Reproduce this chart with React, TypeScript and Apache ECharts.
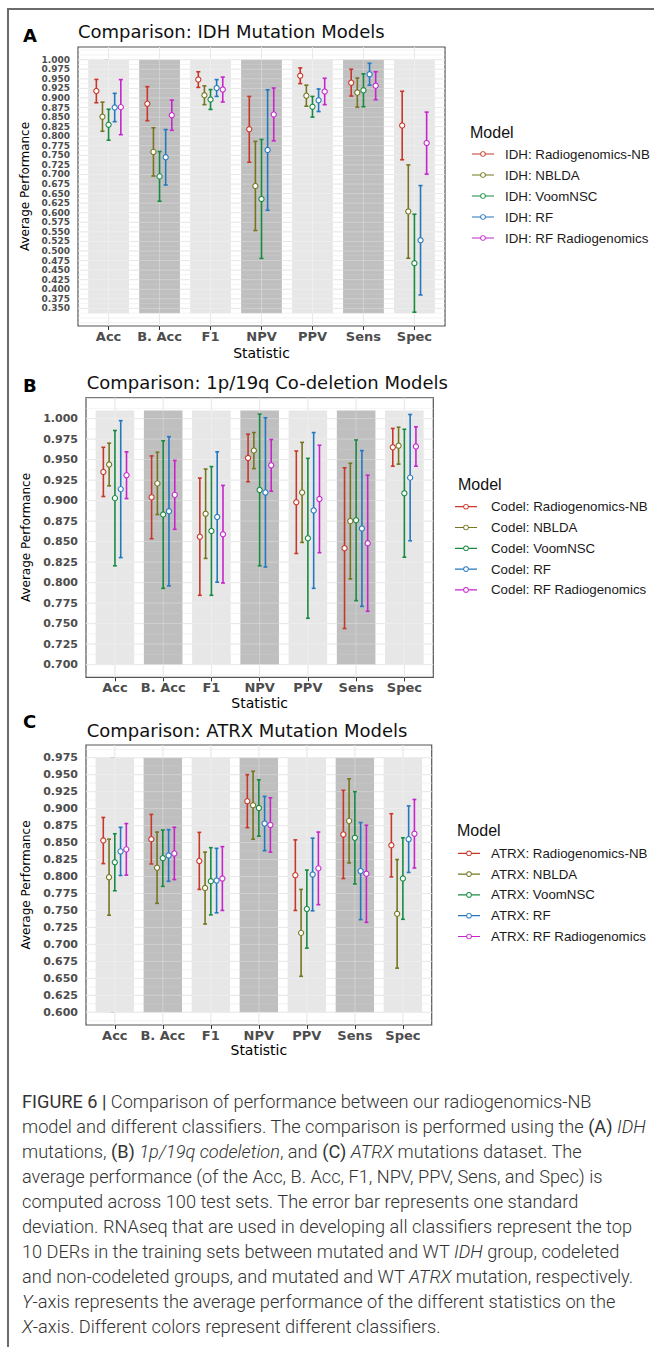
import React, { useEffect, useRef } from "react";
import * as echarts from "echarts";

const statistics = ["Acc", "B. Acc", "F1", "NPV", "PPV", "Sens", "Spec"];
const modelNames = ["Radiogenomics-NB", "NBLDA", "VoomNSC", "RF", "RF Radiogenomics"];
const modelColors = ["#c8372a", "#75751f", "#178b40", "#2379c0", "#c625cc"];
const bandShade = [0, 1, 0, 1, 0, 1, 0];

// [mean, sd] per statistic
const idhRadiogenomicsNB = [[0.918, 0.0305], [0.885, 0.0445], [0.948, 0.0205], [0.818, 0.086], [0.958, 0.0205], [0.94, 0.035], [0.828, 0.0895]];
const idhNBLDA = [[0.851, 0.038], [0.759, 0.063], [0.907, 0.0245], [0.67, 0.1165], [0.906, 0.0275], [0.914, 0.038], [0.603, 0.122]];
const idhVoomNSC = [[0.83, 0.0405], [0.695, 0.065], [0.896, 0.026], [0.636, 0.1555], [0.877, 0.027], [0.92, 0.043], [0.468, 0.128]];
const idhRF = [[0.875, 0.037], [0.745, 0.0725], [0.926, 0.022], [0.764, 0.1575], [0.894, 0.0295], [0.962, 0.0285], [0.528, 0.143]];
const idhRFRadiogenomics = [[0.876, 0.072], [0.855, 0.0395], [0.922, 0.0325], [0.857, 0.069], [0.917, 0.0345], [0.932, 0.0365], [0.782, 0.081]];

const codelRadiogenomicsNB = [[0.935, 0.03], [0.904, 0.0505], [0.856, 0.0715], [0.952, 0.029], [0.898, 0.0625], [0.842, 0.098], [0.965, 0.023]];
const codelNBLDA = [[0.944, 0.026], [0.921, 0.038], [0.884, 0.0545], [0.961, 0.022], [0.91, 0.061], [0.875, 0.0705], [0.967, 0.0225]];
const codelVoomNSC = [[0.903, 0.0825], [0.883, 0.09], [0.863, 0.0785], [0.913, 0.0925], [0.854, 0.0975], [0.876, 0.098], [0.909, 0.078]];
const codelRF = [[0.914, 0.0835], [0.887, 0.091], [0.88, 0.0795], [0.91, 0.091], [0.888, 0.095], [0.866, 0.095], [0.928, 0.077]];
const codelRFRadiogenomics = [[0.931, 0.0285], [0.907, 0.042], [0.859, 0.0595], [0.943, 0.0315], [0.902, 0.0655], [0.848, 0.083], [0.966, 0.024]];

const atrxRadiogenomicsNB = [[0.853, 0.034], [0.855, 0.0365], [0.823, 0.042], [0.911, 0.039], [0.802, 0.052], [0.862, 0.065], [0.846, 0.0465]];
const atrxNBLDA = [[0.799, 0.056], [0.813, 0.0525], [0.783, 0.053], [0.905, 0.05], [0.717, 0.064], [0.882, 0.062], [0.745, 0.08]];
const atrxVoomNSC = [[0.821, 0.042], [0.827, 0.0415], [0.793, 0.0495], [0.901, 0.0415], [0.752, 0.0575], [0.857, 0.068], [0.797, 0.06]];
const atrxRF = [[0.837, 0.0355], [0.831, 0.038], [0.794, 0.0475], [0.878, 0.04], [0.803, 0.0535], [0.808, 0.0715], [0.855, 0.049]];
const atrxRFRadiogenomics = [[0.84, 0.038], [0.834, 0.0385], [0.797, 0.047], [0.876, 0.04], [0.812, 0.0535], [0.804, 0.0715], [0.863, 0.0505]];

const idhTicks = [0.35, 0.375, 0.4, 0.425, 0.45, 0.475, 0.5, 0.525, 0.55, 0.575, 0.6, 0.625, 0.65, 0.675, 0.7, 0.725, 0.75, 0.775, 0.8, 0.825, 0.85, 0.875, 0.9, 0.925, 0.95, 0.975, 1.0];
const codelTicks = [0.7, 0.725, 0.75, 0.775, 0.8, 0.825, 0.85, 0.875, 0.9, 0.925, 0.95, 0.975, 1.0];
const atrxTicks = [0.6, 0.625, 0.65, 0.675, 0.7, 0.725, 0.75, 0.775, 0.8, 0.825, 0.85, 0.875, 0.9, 0.925, 0.95, 0.975];

const idhBand = [0.337, 1.0];
const codelBand = [0.7, 1.01];
const atrxBand = [0.6, 0.975];

const idhRange = [0.3039, 1.0332];
const codelRange = [0.6845, 1.0255];
const atrxRange = [0.58125, 0.99375];

const panels = [
  {
    letter: "A", prefix: "IDH", title: "Comparison: IDH Mutation Models",
    models: [idhRadiogenomicsNB, idhNBLDA, idhVoomNSC, idhRF, idhRFRadiogenomics],
    ticks: idhTicks, band: idhBand, range: idhRange,
    grid: { left: 78, top: 47, width: 367, height: 279 },
    yLabelSize: 9, yNameGap: 44, xNameGap: 20,
    letterPos: [23, 35], titlePos: [78, 31.7],
    legendPos: [472, 147], legendGap: 7, legendPad: 6, modelPos: [470, 132],
  },
  {
    letter: "B", prefix: "Codel", title: "Comparison: 1p/19q Co-deletion Models",
    models: [codelRadiogenomicsNB, codelNBLDA, codelVoomNSC, codelRF, codelRFRadiogenomics],
    ticks: codelTicks, band: codelBand, range: codelRange,
    grid: { left: 86, top: 397.7, width: 347.3, height: 279.6 },
    yLabelSize: 11, yNameGap: 52, xNameGap: 19,
    letterPos: [23, 385], titlePos: [86.7, 382.7],
    legendPos: [455, 499.7], legendGap: 6.8, legendPad: 9, modelPos: [458, 484],
  },
  {
    letter: "C", prefix: "ATRX", title: "Comparison: ATRX Mutation Models",
    models: [atrxRadiogenomicsNB, atrxNBLDA, atrxVoomNSC, atrxRF, atrxRFRadiogenomics],
    ticks: atrxTicks, band: atrxBand, range: atrxRange,
    grid: { left: 86, top: 745, width: 345.7, height: 280 },
    yLabelSize: 11, yNameGap: 52, xNameGap: 18,
    letterPos: [23, 721.7], titlePos: [86.7, 730],
    legendPos: [458, 846.3], legendGap: 6.8, legendPad: 6, modelPos: [457, 830.7],
  },
];

const legendIcon =
  "path://M0,2.4L8.2,2.4L8.2,3.6L0,3.6Z M13.8,2.4L22,2.4L22,3.6L13.8,3.6Z " +
  "M8.2,3A2.8,2.8 0 1 1 13.8,3A2.8,2.8 0 1 1 8.2,3Z M9.1,3A1.9,1.9 0 1 0 12.9,3A1.9,1.9 0 1 0 9.1,3Z";

const chartFont = "DejaVu Sans";
const legendFont = "Liberation Sans";

function gridLineSeries(p: any, pi: number, z: number, majorColor: string, minorColor: string) {
  return {
    type: "custom",
    name: `gridlines${pi}_${z}`,
    xAxisIndex: pi,
    yAxisIndex: pi,
    silent: true,
    z,
    data: [[0, p.range[0]]],
    encode: { x: 0 },
    renderItem: (params: any, api: any) => {
      const cs = params.coordSys;
      const children: any[] = [];
      const step = 0.0125;
      const start = Math.ceil(p.range[0] / step - 1e-6);
      const end = Math.floor(p.range[1] / step + 1e-6);
      for (let k = start; k <= end; k++) {
        const v = k * step;
        const major = p.ticks.some((t: number) => Math.abs(t - v) < 1e-6);
        const y = api.coord([0, v])[1];
        children.push({
          type: "line",
          shape: { x1: cs.x, y1: y, x2: cs.x + cs.width, y2: y },
          style: { stroke: major ? majorColor : minorColor, lineWidth: major ? 1 : 0.6 },
        });
      }
      statistics.forEach((_, i) => {
        const x = api.coord([i, 0])[0];
        children.push({
          type: "line",
          shape: { x1: x, y1: cs.y, x2: x, y2: cs.y + cs.height },
          style: { stroke: majorColor, lineWidth: 1 },
        });
      });
      return { type: "group", children };
    },
  };
}

function buildOption() {
  const grids: any[] = [];
  const xAxes: any[] = [];
  const yAxes: any[] = [];
  const series: any[] = [];
  const legends: any[] = [];
  const graphics: any[] = [];

  panels.forEach((p, pi) => {
    grids.push({
      ...p.grid,
      show: true,
      backgroundColor: "#ffffff",
      borderColor: "#555555",
      borderWidth: 1.2,
      containLabel: false,
      outerBoundsMode: "none",
    });
    xAxes.push({
      type: "value",
      gridIndex: pi,
      min: -0.6,
      max: 6.6,
      name: "Statistic",
      nameLocation: "middle",
      nameGap: p.xNameGap,
      nameTextStyle: { fontFamily: chartFont, fontSize: 14, color: "#000" },
      axisLine: { show: false },
      splitLine: { show: false },
      axisTick: {
        show: true, length: 4, customValues: statistics.map((_, i) => i),
        lineStyle: { color: "#333", width: 1 },
      },
      axisLabel: {
        customValues: statistics.map((_, i) => i),
        formatter: (v: number) => statistics[Math.round(v)] ?? "",
        fontFamily: chartFont, fontWeight: "bold", fontSize: 13, color: "#4d4d4d", margin: 4,
      },
    });
    yAxes.push({
      type: "value",
      gridIndex: pi,
      min: p.range[0],
      max: p.range[1],
      name: "Average Performance",
      nameLocation: "middle",
      nameRotate: 90,
      nameGap: p.yNameGap,
      nameTextStyle: { fontFamily: chartFont, fontSize: 12, color: "#000" },
      axisLine: { show: false },
      splitLine: { show: false },
      axisTick: {
        show: true, length: 4, customValues: p.ticks,
        lineStyle: { color: "#333", width: 1 },
      },
      axisLabel: {
        customValues: p.ticks,
        formatter: (v: number) => v.toFixed(3),
        fontFamily: chartFont, fontWeight: "bold", fontSize: p.yLabelSize, color: "#4d4d4d", margin: 8,
      },
    });

    // grey grid lines on the white panel
    series.push(gridLineSeries(p, pi, 1, "#e0e0e0", "#ebebeb"));

    // shaded statistic bands
    series.push({
      type: "custom",
      name: `band${pi}`,
      xAxisIndex: pi,
      yAxisIndex: pi,
      silent: true,
      z: 2,
      data: statistics.map((_, i) => [i, bandShade[i]]),
      encode: { x: 0 },
      renderItem: (params: any, api: any) => {
        const i = api.value(0);
        const shade = api.value(1);
        const tl = api.coord([i - 0.4, p.band[1]]);
        const br = api.coord([i + 0.4, p.band[0]]);
        return {
          type: "rect",
          shape: { x: tl[0], y: tl[1], width: br[0] - tl[0], height: br[1] - tl[1] },
          style: { fill: shade ? "#bfbfbf" : "#e7e7e7" },
        };
      },
    });

    // faint light grid lines showing through the bands
    series.push(gridLineSeries(p, pi, 3, "rgba(255,255,255,0.28)", "rgba(255,255,255,0.18)"));

    const names: string[] = [];
    p.models.forEach((model, k) => {
      const name = `${p.prefix}: ${modelNames[k]}`;
      names.push(name);
      const color = modelColors[k];
      series.push({
        type: "custom",
        name,
        xAxisIndex: pi,
        yAxisIndex: pi,
        z: 4,
        itemStyle: { color },
        data: model.map(([m, sd], i) => [i, m, m - sd, m + sd]),
        encode: { x: 0, y: [1, 2, 3] },
        renderItem: (params: any, api: any) => {
          const x = api.value(0) + (k - 2) * 0.12;
          const pm = api.coord([x, api.value(1)]);
          const pl = api.coord([x, api.value(2)]);
          const ph = api.coord([x, api.value(3)]);
          const cl = api.coord([x - 0.04, api.value(2)])[0];
          const cr = api.coord([x + 0.04, api.value(2)])[0];
          const ls = { stroke: color, lineWidth: 1.6 };
          return {
            type: "group",
            children: [
              { type: "line", shape: { x1: pl[0], y1: pl[1], x2: ph[0], y2: ph[1] }, style: ls },
              { type: "line", shape: { x1: cl, y1: ph[1], x2: cr, y2: ph[1] }, style: ls },
              { type: "line", shape: { x1: cl, y1: pl[1], x2: cr, y2: pl[1] }, style: ls },
              { type: "circle", shape: { cx: pm[0], cy: pm[1], r: 2.6 }, style: { fill: "#ffffff", stroke: color, lineWidth: 1.1 } },
            ],
          };
        },
      });
    });

    legends.push({
      data: names,
      orient: "vertical",
      left: p.legendPos[0],
      top: p.legendPos[1],
      padding: 0,
      itemWidth: 22,
      itemHeight: 6,
      itemGap: p.legendGap,
      icon: legendIcon,
      selectedMode: false,
      textStyle: {
        fontFamily: legendFont, fontSize: 13.3, color: "#1a1a1a", lineHeight: 14,
        padding: [0, 0, 0, p.legendPad],
      },
    });

    graphics.push(
      {
        type: "text", x: p.letterPos[0], y: p.letterPos[1],
        style: { text: p.letter, fontFamily: chartFont, fontWeight: "bold", fontSize: 18, fill: "#000", verticalAlign: "middle", align: "left" },
      },
      {
        type: "text", x: p.titlePos[0], y: p.titlePos[1],
        style: { text: p.title, fontFamily: chartFont, fontSize: 18, fill: "#111", verticalAlign: "middle", align: "left" },
      },
      {
        type: "text", x: p.modelPos[0], y: p.modelPos[1],
        style: { text: "Model", fontFamily: legendFont, fontSize: 16, fill: "#111", verticalAlign: "middle", align: "left" },
      }
    );
  });

  return {
    animation: false,
    grid: grids,
    xAxis: xAxes,
    yAxis: yAxes,
    series,
    legend: legends,
    graphic: graphics,
  };
}

const captionLines = [
  <><b>FIGURE 6 |</b> Comparison of performance between our radiogenomics-NB</>,
  <>model and different classifiers. The comparison is performed using the <b>(A)</b> <i>IDH</i></>,
  <>mutations, <b>(B)</b> <i>1p/19q codeletion</i>, and <b>(C)</b> <i>ATRX</i> mutations dataset. The</>,
  <>average performance (of the Acc, B. Acc, F1, NPV, PPV, Sens, and Spec) is</>,
  <>computed across 100 test sets. The error bar represents one standard</>,
  <>deviation. RNAseq that are used in developing all classifiers represent the top</>,
  <>10 DERs in the training sets between mutated and WT <i>IDH</i> group, codeleted</>,
  <>and non-codeleted groups, and mutated and WT <i>ATRX</i> mutation, respectively.</>,
  <><i>Y</i>-axis represents the average performance of the different statistics on the</>,
  <><i>X</i>-axis. Different colors represent different classifiers.</>,
];

export default function App() {
  const ref = useRef<HTMLDivElement>(null);
  useEffect(() => {
    if (!ref.current) return;
    const chart = echarts.init(ref.current, undefined, { renderer: "svg" });
    chart.setOption(buildOption() as any);
    return () => chart.dispose();
  }, []);
  return (
    <div style={{ position: "absolute", left: 0, top: 0, width: 654, height: 1347, overflow: "hidden", background: "#fff" }}>
      <div ref={ref} style={{ position: "absolute", left: 0, top: 0, width: 654, height: 1070 }} />
      <div
        style={{
          position: "absolute", left: 7, top: 8, width: 660, height: 1360,
          borderTop: "2px solid #6b6b6b", borderLeft: "2px solid #6b6b6b",
          boxSizing: "border-box", pointerEvents: "none",
        }}
      />
      <div
        style={{
          position: "absolute", left: 22, top: 1089, whiteSpace: "nowrap",
          fontFamily: "Roboto, 'Liberation Sans', sans-serif", fontWeight: 300,
          fontSize: 18.2, lineHeight: "25px", color: "#333",
        }}
      >
        {captionLines.map((l, i) => (
          <div key={i}>{l}</div>
        ))}
      </div>
    </div>
  );
}
